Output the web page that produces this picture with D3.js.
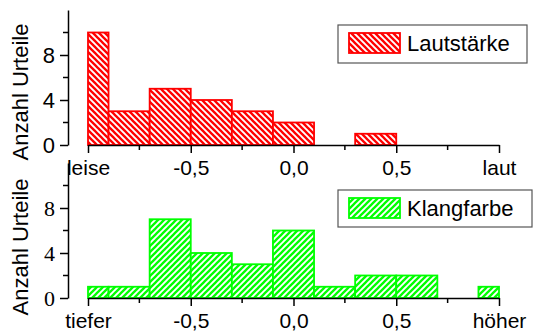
<!DOCTYPE html>
<html>
<head>
<meta charset="utf-8">
<script src="https://cdn.jsdelivr.net/npm/d3@7"></script>
<style>
  body { margin: 0; background: #fff; }
  svg text { font-family: "Liberation Sans", Arial, sans-serif; fill: #000; }
</style>
</head>
<body>
<svg id="chart" width="533" height="333"></svg>
<script>
// histogram bins (edge bins are half width)
var binEdges = [-1, -0.9, -0.7, -0.5, -0.3, -0.1, 0.1, 0.3, 0.5, 0.7, 0.9, 1];
var lautCounts = [10, 3, 5, 4, 3, 2, 0, 1, 0, 0, 0];
var klangCounts = [1, 1, 7, 4, 3, 6, 1, 2, 2, 0, 1];

var majorX = [-1, -0.5, 0, 0.5, 1];
var minorX = [-0.75, -0.25, 0.25, 0.75];
var topXLabels = ["leise", "-0,5", "0,0", "0,5", "laut"];
var bottomXLabels = ["tiefer", "-0,5", "0,0", "0,5", "höher"];
var majorY = [0, 4, 8];
var minorY = [2, 6, 10];

var svg = d3.select("#chart");
var defs = svg.append("defs");

function hatch(id, color, dir) {
  var p = defs.append("pattern")
    .attr("id", id)
    .attr("patternUnits", "userSpaceOnUse")
    .attr("width", 6).attr("height", 6);
  p.append("rect").attr("width", 6).attr("height", 6).attr("fill", "#fff");
  var lines = dir > 0
    ? [[-1, 1, 1, -1], [0, 6, 6, 0], [5, 7, 7, 5]]
    : [[-1, 5, 1, 7], [0, 0, 6, 6], [5, -1, 7, 1]];
  lines.forEach(l => {
    p.append("line")
      .attr("x1", l[0]).attr("y1", l[1]).attr("x2", l[2]).attr("y2", l[3])
      .attr("stroke", color).attr("stroke-width", 2.3);
  });
}
hatch("hatchRed", "#ff0000", -1);
hatch("hatchGreen", "#00ff00", 1);

var x = d3.scaleLinear().domain([-1, 1]).range([88, 499]);

function panel(opts) {
  var y = d3.scaleLinear().domain([0, 12]).range([opts.base, opts.base - 135]);
  var g = svg.append("g");

  var bins = opts.counts.map((c, i) => ({ x0: binEdges[i], x1: binEdges[i + 1], n: c }))
    .filter(d => d.n > 0);

  g.selectAll("rect.bar")
    .data(bins).enter()
    .append("rect").attr("class", "bar")
    .attr("x", d => x(d.x0))
    .attr("y", d => y(d.n))
    .attr("width", d => x(d.x1) - x(d.x0))
    .attr("height", d => y(0) - y(d.n))
    .attr("fill", "url(#" + opts.pattern + ")")
    .attr("stroke", opts.color)
    .attr("stroke-width", 1.8);

  // y axis
  var yAxis = g.append("g").attr("transform", "translate(68,0)")
    .call(d3.axisLeft(y).tickValues(majorY).tickSize(8).tickSizeOuter(0).tickPadding(5));
  yAxis.append("g").selectAll("line")
    .data(minorY).enter().append("line")
    .attr("x1", -5).attr("x2", 0)
    .attr("y1", d => y(d)).attr("y2", d => y(d))
    .attr("stroke", "#000").attr("stroke-width", 1.5);
  yAxis.selectAll("text")
    .style("font-family", opts.yFont)
    .style("font-size", "22px");

  // x axis
  var xAxis = g.append("g").attr("transform", "translate(0," + opts.base + ")")
    .call(d3.axisBottom(x).tickValues(majorX).tickSize(8).tickSizeOuter(0).tickPadding(7)
      .tickFormat((d, i) => opts.xLabels[i]));
  xAxis.append("g").selectAll("line")
    .data(minorX).enter().append("line")
    .attr("x1", d => x(d)).attr("x2", d => x(d))
    .attr("y1", 0).attr("y2", 5)
    .attr("stroke", "#000").attr("stroke-width", 1.5);
  xAxis.selectAll("text").style("font-size", "21px")
    .style("font-family", "'Liberation Sans', Arial, sans-serif");

  [yAxis, xAxis].forEach(a => {
    a.selectAll("path.domain").attr("stroke-width", 1.5);
    a.selectAll(".tick line").attr("stroke-width", 1.5);
  });

  // y label
  g.append("text")
    .attr("transform", "translate(28," + opts.labelY + ") rotate(-90)")
    .attr("text-anchor", "middle")
    .style("font-size", "22px")
    .text("Anzahl Urteile");

  // legend
  var lg = g.append("g");
  lg.append("rect")
    .attr("x", opts.legend[0]).attr("y", opts.legend[1])
    .attr("width", opts.legend[2]).attr("height", opts.legend[3])
    .attr("fill", "#fff").attr("stroke", "#555").attr("stroke-width", 1.2);
  lg.append("rect")
    .attr("x", opts.legend[0] + 11).attr("y", opts.legend[1] + 8)
    .attr("width", 51).attr("height", 20)
    .attr("fill", "url(#" + opts.pattern + ")")
    .attr("stroke", opts.color).attr("stroke-width", 1.8);
  lg.append("text")
    .attr("x", opts.legend[0] + 69).attr("y", opts.legend[1] + 26)
    .style("font-size", "22px")
    .text(opts.name);
}

panel({
  base: 145, counts: lautCounts, color: "#ff0000", pattern: "hatchRed",
  xLabels: topXLabels, yFont: "'Liberation Sans', Arial, sans-serif",
  labelY: 92, name: "Lautstärke", legend: [338, 25, 189, 38]
});
panel({
  base: 298, counts: klangCounts, color: "#00ff00", pattern: "hatchGreen",
  xLabels: bottomXLabels, yFont: "'Liberation Serif', 'Times New Roman', serif",
  labelY: 247, name: "Klangfarbe", legend: [338, 190, 194, 37]
});
</script>
</body>
</html>
